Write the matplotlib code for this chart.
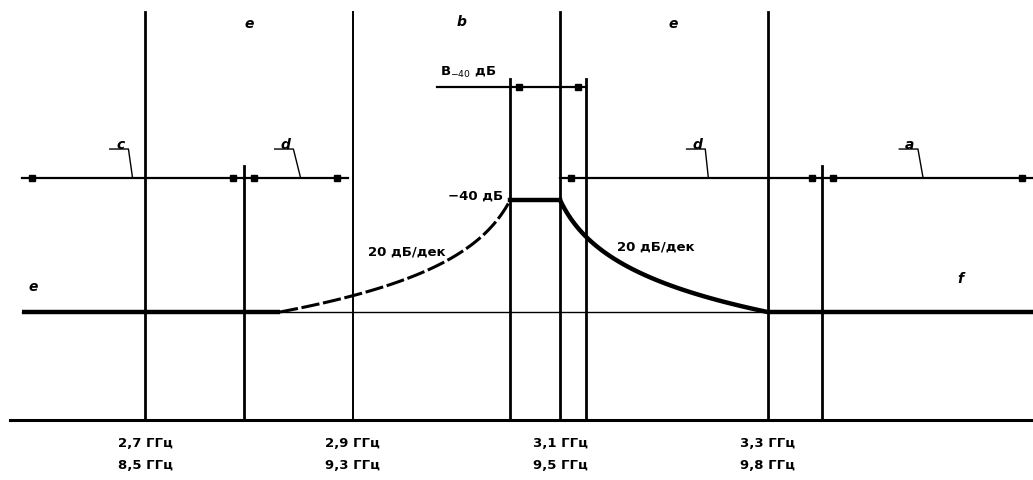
import matplotlib.pyplot as plt
import numpy as np

# частоты (ГГц) и уровни (дБ) маски
f_marks = [2.7, 2.9, 3.1, 3.3]
labels_lo = ['2,7 ГГц', '2,9 ГГц', '3,1 ГГц', '3,3 ГГц']
labels_hi = ['8,5 ГГц', '9,3 ГГц', '9,5 ГГц', '9,8 ГГц']
f_edge_l = 2.795     # граница c/d слева
f_edge_r = 3.353     # граница d/g справа
f_bw_l = 3.052       # B-40 дБ, левый край
f_bw_r = 3.125       # B-40 дБ, правый край
f_start, f_end = 2.581, 3.556
f_curve_l = 2.83     # начало левого склона
level_top = -40
level_base = -60
y_axis = -79.3
y_arrow = -36.1
y_bw = -19.8
y_top = -6.4

plt.rcParams['font.family'] = ['DejaVu Sans']
fig = plt.figure(figsize=(10.33, 4.81), dpi=100)
ax = fig.add_axes([0, 0, 1, 1])
ax.set_xlim(2.5602, 3.5559)
ax.set_ylim(-90, -4.11)
ax.axis('off')
fs = dict(fontsize=9.5, fontweight='bold', color='black')
fl_s = dict(fontsize=10, fontweight='bold', style='italic', color='black')

# ось
ax.plot([2.57, f_end], [y_axis, y_axis], 'k', lw=2.2)
# тонкая горизонталь на базовом уровне
ax.plot([f_start, f_end], [level_base, level_base], 'k', lw=1.0)

# вертикали
for f in f_marks:
    ax.plot([f, f], [y_top, y_axis], 'k', lw=1.4 if f == 2.9 else 2.0)
for f in [f_edge_l, f_edge_r]:
    ax.plot([f, f], [y_arrow + 2.2, y_axis], 'k', lw=2.0)
for f in [f_bw_l, f_bw_r]:
    ax.plot([f, f], [y_bw + 1.4, y_axis], 'k', lw=2.0)

# маска: плато и склоны 20 дБ/дек
ax.plot([f_start, f_curve_l], [level_base, level_base], 'k', lw=3.2,
        solid_capstyle='butt')
a_l = (f_bw_l - f_curve_l) / 9
fl = np.linspace(f_curve_l, f_bw_l, 100)
ax.plot(fl, level_top - 20 * np.log10(1 + (f_bw_l - fl) / a_l), 'k', lw=2.2,
        linestyle=(0, (6, 1.2)))
ax.plot([f_bw_l, 3.1], [level_top, level_top], 'k', lw=3.2)
a_r = (3.3 - 3.1) / 9
fr = np.linspace(3.1, 3.3, 100)
ax.plot(fr, level_top - 20 * np.log10(1 + (fr - 3.1) / a_r), 'k', lw=3.2)
ax.plot([3.3, f_end], [level_base, level_base], 'k', lw=3.2,
        solid_capstyle='butt')

# размерные линии со стрелками-квадратиками
dx = 0.0105
spans = [(f_start, f_edge_l), (f_edge_l, 2.9 - 0.004),
         (3.1, f_edge_r), (f_edge_r, f_end)]
for a, b in spans:
    ax.plot([a, b], [y_arrow, y_arrow], 'k', lw=1.6)
    ax.plot([a + dx, b - dx], [y_arrow, y_arrow], 'ks', ms=4)
ax.plot([2.981, f_bw_r], [y_bw, y_bw], 'k', lw=1.6)
ax.plot([f_bw_l + 0.008, f_bw_r - 0.008], [y_bw, y_bw], 'ks', ms=4)

# выноски
leaders = [('c', 2.676, 2.683), ('d', 2.835, 2.845), ('d', 3.232, 3.238),
           ('a', 3.437, 3.445)]
for txt, fx, fe in leaders:
    ax.plot([fx - 0.01, fx + 0.008, fe + 0.005], [-30.9, -30.9, y_arrow],
            'k', lw=1.0)
    ax.text(fx, -31.2, txt, ha='center', va='bottom', **fl_s)

# подписи
ax.text(2.8, -8.4, 'e', ha='center', va='center', **fl_s)
ax.text(3.0055, -8.0, 'b', ha='center', va='center', **fl_s)
ax.text(3.209, -8.4, 'e', ha='center', va='center', **fl_s)
ax.text(2.592, -55.3, 'e', ha='center', va='center', **fl_s)
ax.text(3.486, -54.0, 'f', ha='center', va='center', **fl_s)
ax.text(3.045, -39.2, '\u221240 дБ', ha='right', va='center', **fs)
ax.text(3.012, -17.0, 'B$_{-40}$ дБ', ha='center', va='center', **fs)
ax.text(2.9525, -49.1, '20 дБ/дек', ha='center', va='center', **fs)
ax.text(3.192, -48.2, '20 дБ/дек', ha='center', va='center', **fs)
for f, lo, hi in zip(f_marks, labels_lo, labels_hi):
    ax.text(f, -83.3, lo, ha='center', va='center', **fs)
    ax.text(f, -87.3, hi, ha='center', va='center', **fs)

fig.savefig('out.png', dpi=100, facecolor='white')
